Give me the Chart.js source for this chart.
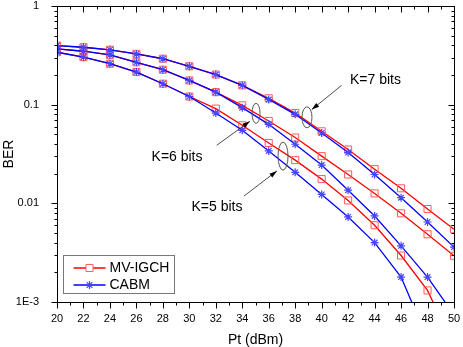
<!DOCTYPE html>
<html>
<head>
<meta charset="utf-8">
<script src="https://cdn.jsdelivr.net/npm/chart.js@4.4.0/dist/chart.umd.min.js"></script>
<style>
  html, body { margin: 0; padding: 0; background: #fff; }
  #contenedor { width: 463px; height: 347px; }
</style>
</head>
<body>
<div id="contenedor"><canvas id="myChart" width="463" height="347"></canvas></div>
<script>
// Pt (dBm) del eje x
const pt_dbm = [20, 22, 24, 26, 28, 30, 32, 34, 36, 38, 40, 42, 44, 46, 48, 50];

// BER, MV-IGCH
const mv_k7 = [0.397, 0.382, 0.360, 0.327, 0.292, 0.245, 0.202, 0.157, 0.116, 0.0822, 0.0537, 0.0351, 0.0222, 0.0142, 0.00875, 0.00546];
const mv_k6 = [0.368, 0.348, 0.320, 0.269, 0.226, 0.176, 0.134, 0.0984, 0.0683, 0.0464, 0.0301, 0.0196, 0.0126, 0.00792, 0.00486, 0.00294];
const mv_k5 = [0.340, 0.303, 0.260, 0.214, 0.163, 0.121, 0.0912, 0.0618, 0.0409, 0.0274, 0.0176, 0.0107, 0.0060, 0.00296, 0.00131, 0.00035];

// BER, CABM
const cabm_k7 = [0.397, 0.382, 0.360, 0.327, 0.292, 0.245, 0.202, 0.157, 0.113, 0.0798, 0.0516, 0.0327, 0.0196, 0.0114, 0.00647, 0.00360];
const cabm_k6 = [0.368, 0.348, 0.320, 0.269, 0.226, 0.176, 0.134, 0.0933, 0.0632, 0.0397, 0.0244, 0.0136, 0.00745, 0.00371, 0.00179, 0.00074];
const cabm_k5 = [0.340, 0.303, 0.260, 0.214, 0.163, 0.121, 0.0822, 0.0550, 0.0340, 0.0206, 0.0123, 0.00728, 0.0040, 0.00179, 0.00042, 0.0001];

// etiquetas del eje y
const ticks_y = [1, 0.1, 0.01, 0.001];
const etiquetas_y = ["1", "0.1", "0.01", "1E-3"];

// nombres de series
const nombres_series = ["MV-IGCH", "CABM"];

// anotaciones K=... (en coordenadas de datos)
const anotaciones = [
  { texto: "K=7 bits", tx: 42.14, ty: 0.176, alinear: "left", ex: 38.89, ey: 0.0744, rx: 5, ry: 10.5, desde: [41.51, 0.157], hasta: [39.25, 0.0891] },
  { texto: "K=6 bits", tx: 29.07, ty: 0.0294, alinear: "center", ex: 35.04, ey: 0.0817, rx: 4, ry: 10, desde: [32.07, 0.0388], hasta: [34.58, 0.0678] },
  { texto: "K=5 bits", tx: 32.09, ty: 0.00918, alinear: "center", ex: 37.08, ey: 0.0301, rx: 5, ry: 14, desde: [34.13, 0.01186], hasta: [36.62, 0.0213] }
];

const ROJO = "#ff0000";
const ROJO_MARCA = "#ff5a5a";
const AZUL = "#0000ff";
const AZUL_MARCA = "#4646ff";
const FUENTE = "'Liberation Sans', Arial, sans-serif";

function serie_azul(datos) {
  return {
    data: datos,
    borderColor: AZUL,
    borderWidth: 1.3,
    pointStyle: "star",
    pointRadius: 4,
    pointBorderColor: AZUL_MARCA,
    pointBorderWidth: 1.2,
    pointBackgroundColor: AZUL_MARCA,
    tension: 0
  };
}

function serie_roja(datos) {
  return {
    data: datos,
    borderColor: ROJO,
    borderWidth: 1.3,
    pointStyle: "rect",
    pointRadius: 5,
    pointBorderColor: ROJO_MARCA,
    pointBorderWidth: 1,
    pointBackgroundColor: "rgba(255,255,255,0)",
    tension: 0
  };
}

function linea(ctx, x1, y1, x2, y2) {
  ctx.beginPath();
  ctx.moveTo(x1, y1);
  ctx.lineTo(x2, y2);
  ctx.stroke();
}

// quitar el relleno automatico que chart.js agrega por las etiquetas
function sin_relleno(s) {
  s.paddingTop = 0;
  s.paddingBottom = 0;
  s.paddingLeft = 0;
  s.paddingRight = 0;
}

// marco, marcas de ejes, anotaciones y leyenda
const plugin_marco = {
  id: "marco",
  afterDraw(chart) {
    const ctx = chart.ctx;
    const area = chart.chartArea;
    const ex = chart.scales.x;
    const ey = chart.scales.y;
    const L = Math.round(area.left) + 0.5;
    const R = Math.round(area.right) + 0.5;
    const T = Math.round(area.top) + 0.5;
    const B = Math.round(area.bottom) + 0.5;
    ctx.save();
    ctx.strokeStyle = "#000";
    ctx.lineWidth = 1;
    ctx.strokeRect(L, T, R - L, B - T);

    // marcas x
    for (let v = 20; v <= 50; v++) {
      const px = Math.round(ex.getPixelForValue(v)) + 0.5;
      const largo = v % 2 === 0 ? 6 : 3;
      linea(ctx, px, B, px, B + largo);
      linea(ctx, px, T, px, T + largo);
    }
    // marcas y (log)
    for (let d = -3; d <= 0; d++) {
      for (let m = 1; m <= 9; m++) {
        const v = m * Math.pow(10, d);
        if (v > 1.0001) break;
        const py = Math.round(ey.getPixelForValue(v)) + 0.5;
        const largo = m === 1 ? 6 : 3;
        linea(ctx, L, py, L - largo, py);
        linea(ctx, R, py, R - largo, py);
      }
    }

    // anotaciones
    ctx.font = "14px " + FUENTE;
    ctx.textBaseline = "middle";
    anotaciones.forEach((a) => {
      ctx.fillStyle = "#000";
      ctx.textAlign = a.alinear;
      ctx.fillText(a.texto, ex.getPixelForValue(a.tx), ey.getPixelForValue(a.ty));

      ctx.strokeStyle = "#555";
      ctx.lineWidth = 1;
      ctx.beginPath();
      ctx.ellipse(ex.getPixelForValue(a.ex), ey.getPixelForValue(a.ey), a.rx, a.ry, 0, 0, Math.PI * 2);
      ctx.stroke();

      const x1 = ex.getPixelForValue(a.desde[0]);
      const y1 = ey.getPixelForValue(a.desde[1]);
      const x2 = ex.getPixelForValue(a.hasta[0]);
      const y2 = ey.getPixelForValue(a.hasta[1]);
      ctx.strokeStyle = "#222";
      ctx.lineWidth = 0.8;
      linea(ctx, x1, y1, x2, y2);
      const ang = Math.atan2(y2 - y1, x2 - x1);
      const punta = 8;
      ctx.fillStyle = "#000";
      ctx.beginPath();
      ctx.moveTo(x2, y2);
      ctx.lineTo(x2 - punta * Math.cos(ang - 0.3), y2 - punta * Math.sin(ang - 0.3));
      ctx.lineTo(x2 - punta * Math.cos(ang + 0.3), y2 - punta * Math.sin(ang + 0.3));
      ctx.closePath();
      ctx.fill();
    });

    // leyenda
    const lx = Math.round(area.left) + 6.5;
    const ly = Math.round(area.bottom) - 46.5;
    ctx.strokeStyle = "#777";
    ctx.lineWidth = 1;
    ctx.strokeRect(lx, ly, 111, 38);
    const filas = [
      { y: ly + 12.5, linea: ROJO, marca: ROJO_MARCA, tipo: "rect" },
      { y: ly + 29.5, linea: AZUL, marca: AZUL_MARCA, tipo: "star" }
    ];
    filas.forEach((f, i) => {
      ctx.strokeStyle = f.linea;
      ctx.lineWidth = 1.3;
      linea(ctx, lx + 10, f.y, lx + 42, f.y);
      ctx.strokeStyle = f.marca;
      ctx.fillStyle = f.tipo === "rect" ? "#fff" : f.marca;
      ctx.lineWidth = f.tipo === "rect" ? 1 : 1.2;
      Chart.helpers.drawPoint(ctx, { pointStyle: f.tipo, radius: f.tipo === "rect" ? 5 : 4, rotation: 0, borderWidth: 1 }, lx + 26, f.y);
      ctx.fillStyle = "#000";
      ctx.textAlign = "left";
      ctx.font = "14px " + FUENTE;
      ctx.fillText(nombres_series[i], lx + 46, f.y + 0.5);
    });
    ctx.restore();
  }
};

const config = {
  type: "line",
  data: {
    labels: pt_dbm,
    datasets: [
      serie_azul(cabm_k7),
      serie_azul(cabm_k6),
      serie_azul(cabm_k5),
      serie_roja(mv_k7),
      serie_roja(mv_k6),
      serie_roja(mv_k5)
    ].map((ds) => {
      ds.data = ds.data.map((v, i) => ({ x: pt_dbm[i], y: v }));
      return ds;
    })
  },
  options: {
    responsive: false,
    animation: false,
    devicePixelRatio: 1,
    layout: { padding: { top: 5, right: 9, left: 0, bottom: 0 } },
    plugins: { legend: { display: false }, tooltip: { enabled: false } },
    scales: {
      x: {
        type: "linear",
        min: 20,
        max: 50,
        afterFit: (s) => { s.height = 45; sin_relleno(s); },
        grid: { display: false },
        border: { display: false },
        ticks: { stepSize: 2, color: "#000", font: { family: FUENTE, size: 11 }, padding: 2, maxRotation: 0 },
        title: { display: true, text: "Pt (dBm)", color: "#000", font: { family: FUENTE, size: 14 }, padding: { top: 0, bottom: -2 } }
      },
      y: {
        type: "logarithmic",
        min: 0.001,
        max: 1,
        afterFit: (s) => { s.width = 57; sin_relleno(s); },
        afterBuildTicks: (s) => { s.ticks = ticks_y.map((v) => ({ value: v })); },
        grid: { display: false },
        border: { display: false },
        ticks: {
          color: "#000",
          font: { family: FUENTE, size: 11 },
          padding: 10,
          callback: (v) => {
            const i = ticks_y.findIndex((t) => Math.abs(t - v) / t < 1e-6);
            return i >= 0 ? etiquetas_y[i] : "";
          }
        },
        title: { display: true, text: "BER", color: "#000", font: { family: FUENTE, size: 14 }, padding: { top: 1, bottom: 0 } }
      }
    }
  },
  plugins: [plugin_marco]
};

const myChart = document.getElementById("myChart");
new Chart(myChart, config);
</script>
</body>
</html>
